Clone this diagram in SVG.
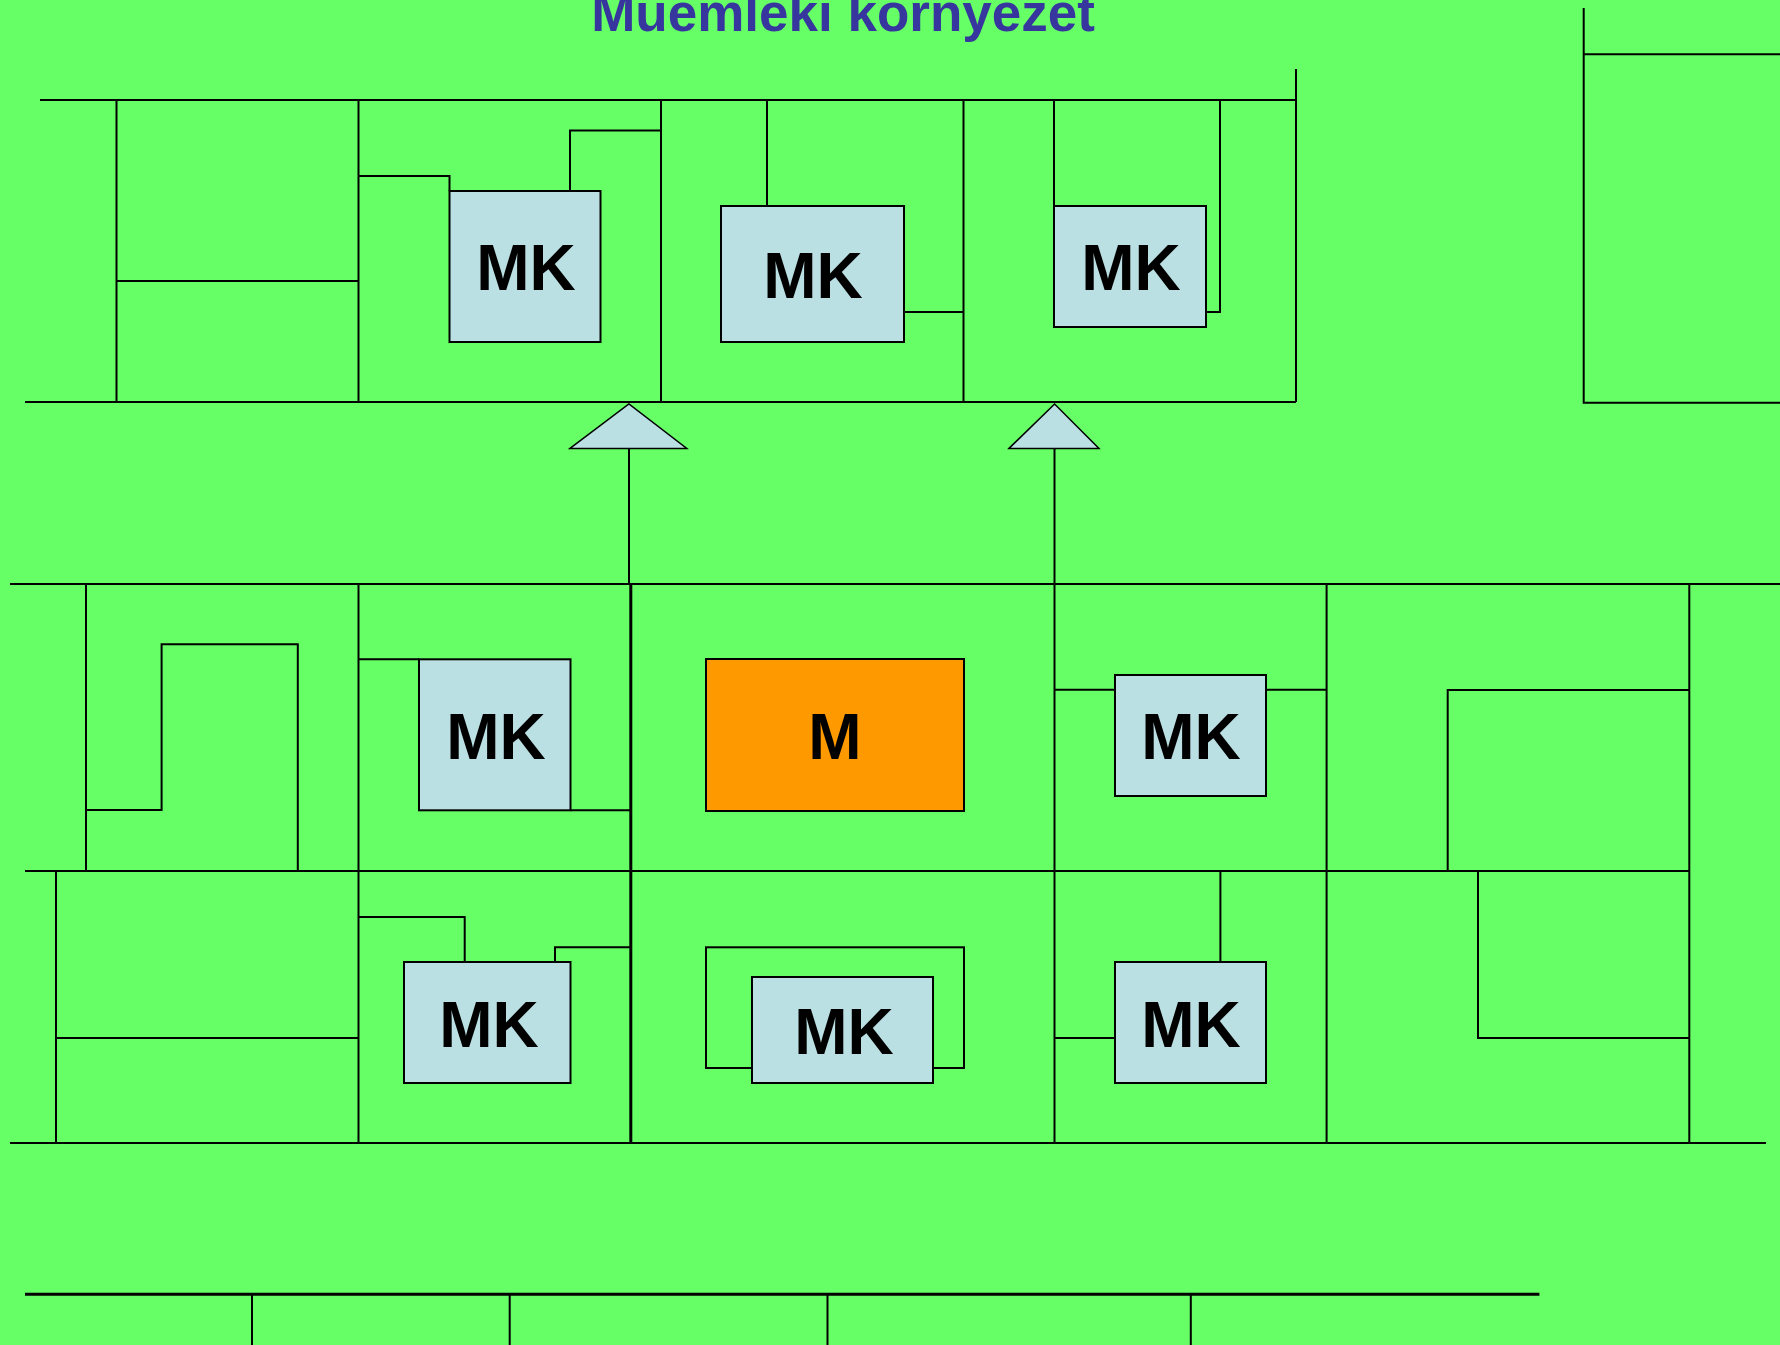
<svg xmlns="http://www.w3.org/2000/svg" width="1780" height="1345" viewBox="0 0 1780 1345">
<style>
.w{fill:none;stroke:#000;stroke-width:2}
.tk{fill:none;stroke:#000;stroke-width:3}
.mk{fill:#bbe0e3;stroke:#000;stroke-width:2}
.m{fill:#ff9900;stroke:#000;stroke-width:2}
.tri{fill:#bbe0e3;stroke:#000;stroke-width:1.5}
.lbl{font-family:"Liberation Sans",Arial,sans-serif;font-weight:bold;font-size:64px;fill:#000;text-anchor:middle}
.title{font-family:"Liberation Sans",Arial,sans-serif;font-weight:bold;font-size:53px;fill:#36369e;text-anchor:middle}
</style>
<rect x="0" y="0" width="1780" height="1345" fill="#66ff66"/>
<text class="title" x="843" y="31">Muemleki kornyezet</text>
<g id="connectors">
<path class="w" d="M40,100 H1296 M1296,69 V402 M25,402 H1296 M116.5,100 V402 M116.5,281 H358.5 M358.5,100 V402 M358.5,176 H449.5 V191 M570,191 V130.5 H661 M661,100 V402 M767,100 V206 M904,312 H963.5 M963.5,100 V402 M1054,100 V206 M1206,312 H1220 V100"/>
<path class="w" d="M1583.7,8 V402.7 H1780 M1583.7,54.3 H1780"/>
<path class="w" d="M629,448 V584"/>
<path class="w" d="M10,584 H1780 M86,584 V871 M86,810 H161.6 V644.3 H297.8 V871 M358.5,584 V1143 M358.5,659.3 H419 M570.5,810.3 H630 M1054.5,448 V1143 M1054,689.7 H1115 M1266,689.7 H1326.6 M1326.6,584 V1143 M1447.7,871 V690 H1689.3 M1689.3,584 V1143 M25,871 H1689.3 M1478,871 V1038 H1689.3 M56,871 V1143 M56,1038 H358.5 M358.5,917 H464.7 V962 M555,962 V947.3 H630 M1054,1038 H1115 M1220.4,962 V871 M10,1143 H1766"/>
<rect class="w" x="706" y="947.3" width="258" height="120.7"/>
<path class="tk" d="M630.8,584 V1143"/>
<path class="tk" d="M25,1294.3 H1539.4"/>
<path class="w" d="M252,1294 V1345 M509.7,1294 V1345 M827.5,1294 V1345 M1190.8,1294 V1345"/>
</g>
<g id="arrow1"><polygon class="tri" points="570,448.4 628.9,404 686.8,448.4"/></g>
<g id="arrow2"><polygon class="tri" points="1009,448.4 1054.6,404 1099,448.4"/></g>
<g id="mk1"><rect class="mk" x="449.5" y="191" width="151" height="151"/><text class="lbl" x="526" y="290">MK</text></g>
<g id="mk2"><rect class="mk" x="721" y="206" width="183" height="136"/><text class="lbl" x="813" y="297.5">MK</text></g>
<g id="mk3"><rect class="mk" x="1054" y="206" width="152" height="121"/><text class="lbl" x="1131" y="290">MK</text></g>
<g id="mk4"><rect class="mk" x="419" y="659.3" width="151.5" height="151"/><text class="lbl" x="496" y="759">MK</text></g>
<g id="m"><rect class="m" x="706" y="659" width="258" height="152"/><text class="lbl" x="835" y="759">M</text></g>
<g id="mk5"><rect class="mk" x="1115" y="675" width="151" height="121"/><text class="lbl" x="1191" y="759">MK</text></g>
<g id="mk6"><rect class="mk" x="404" y="962" width="166.5" height="121"/><text class="lbl" x="489" y="1046.5">MK</text></g>
<g id="mk7"><rect class="mk" x="752" y="977" width="181" height="106"/><text class="lbl" x="844" y="1054">MK</text></g>
<g id="mk8"><rect class="mk" x="1115" y="962" width="151" height="121"/><text class="lbl" x="1191" y="1046.5">MK</text></g>
</svg>
